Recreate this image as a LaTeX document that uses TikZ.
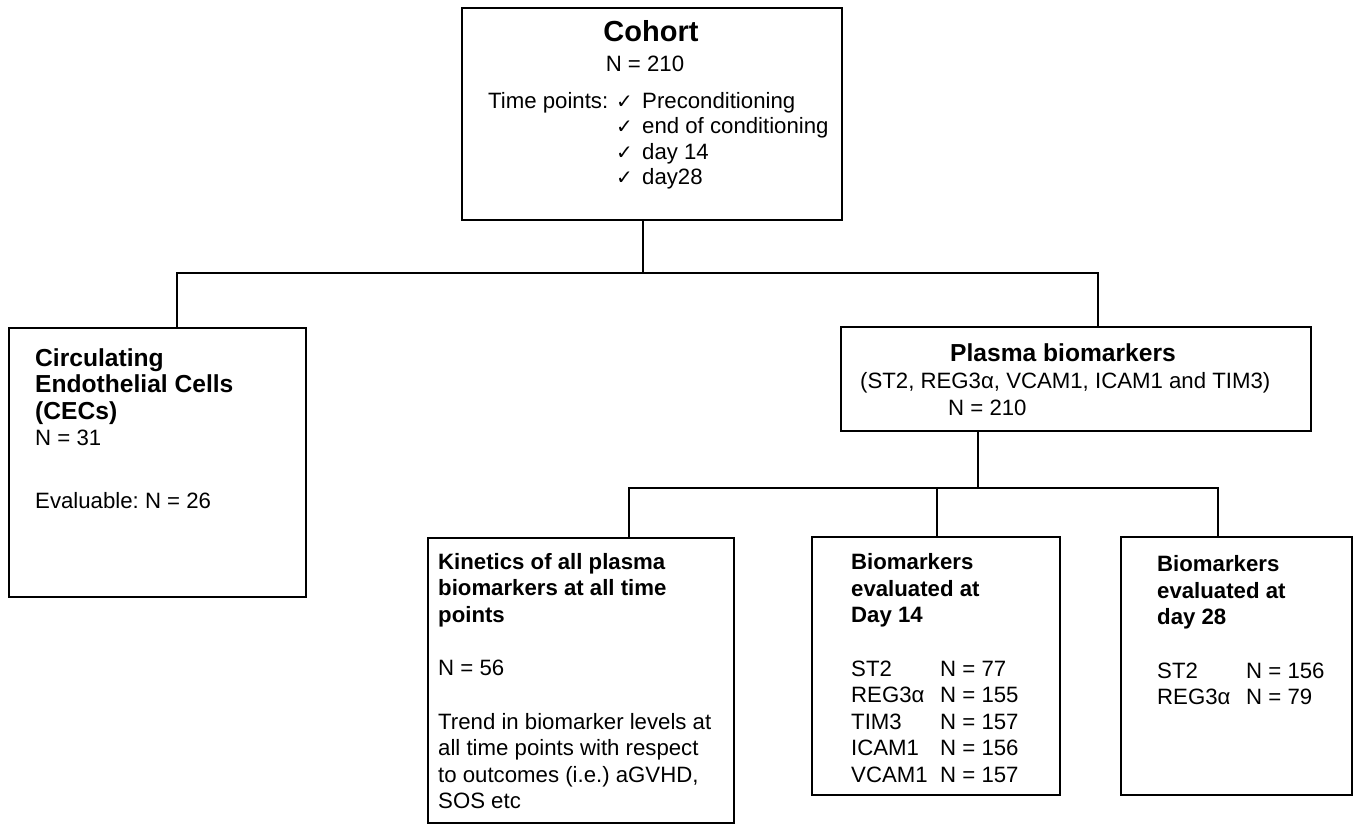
\documentclass[tikz,border=0pt]{standalone}
\usepackage{fontspec}
\setmainfont{Liberation Sans}
\newfontfamily\chkfont{DejaVu Sans}
\frenchspacing
\begin{document}
\begin{tikzpicture}[x=1pt,y=-1pt,
  box/.style={draw=black, line width=2.6pt, rectangle, inner sep=0pt, fill=none},
  conn/.style={draw=black, line width=2.6pt},
  txt/.style={inner sep=0pt, anchor=base west, font=\fontsize{22.2}{26.5}\selectfont\frenchspacing},
  txtc/.style={inner sep=0pt, anchor=base, font=\fontsize{22.2}{26.5}\selectfont},
  hd/.style={inner sep=0pt, anchor=base west, font=\fontsize{22.2}{26.5}\selectfont\bfseries},
  hdl/.style={inner sep=0pt, anchor=base west, font=\fontsize{24.6}{26.5}\selectfont\bfseries},
  chk/.style={inner sep=0pt, anchor=base west, font=\fontsize{20}{26.5}\selectfont\chkfont}
]
\useasboundingbox[fill=white] (0,0) rectangle (1354,825);

% boxes
\node[box, minimum width=380pt, minimum height=212pt] (cohort) at (652,114) {};
\node[box, minimum width=297pt, minimum height=269pt] (cec) at (157.5,462.5) {};
\node[box, minimum width=470pt, minimum height=104pt] (plasma) at (1076,379) {};
\node[box, minimum width=306pt, minimum height=285pt] (kin) at (581,680.5) {};
\node[box, minimum width=248pt, minimum height=258pt] (d14) at (936,666) {};
\node[box, minimum width=231pt, minimum height=258pt] (d28) at (1236.5,666) {};

% connector junctions
\coordinate (j1) at (643,273);
\coordinate (busL) at (177,273);
\coordinate (busR) at (1098,273);
\coordinate (j2) at (978,488);
\coordinate (b2L) at (629,488);
\coordinate (b2M) at (937,488);
\coordinate (b2R) at (1218,488);

\draw[conn] (cohort.south -| j1) -- (j1);
\draw[conn] (cec.north -| busL) |- (busR) -- (plasma.north -| busR);
\draw[conn] (plasma.south -| j2) -- (j2);
\draw[conn] (kin.north -| b2L) |- (b2R) -- (d28.north -| b2R);
\draw[conn] (d14.north -| b2M) -- (b2M);

% Cohort text
\node[inner sep=0pt, anchor=base, font=\fontsize{29}{32}\selectfont\bfseries] (ct) at (651,41) {Cohort};
\node[txtc] (cn) at (645,71) {N = 210};
\node[txt] (tp) at (488,108) {Time points:};
\foreach \y/\t [count=\i] in {108/Preconditioning,133.5/end of conditioning,159/day 14,184.5/day28}{
  \node[chk] (ck\i) at (616,\y) {✓};
  \node[txt] (ti\i) at (642,\y) {\t};
}

% CEC text
\node[hdl] (cec1) at (35,366) {Circulating};
\node[hdl] (cec2) at (35,392.5) {Endothelial Cells};
\node[hdl] (cec3) at (35,419) {(CECs)};
\node[txt] (cec4) at (35,445.5) {N = 31};
\node[txt] (cec5) at (35,508) {Evaluable: N = 26};

% Plasma text
\node[inner sep=0pt, anchor=base, font=\fontsize{24.6}{26.5}\selectfont\bfseries] (pl1) at (1063,361) {Plasma biomarkers};
\node[txt] (pl2) at (860,388) {(ST2, REG3α, VCAM1, ICAM1 and TIM3)};
\node[txt] (pl3) at (948,415) {N = 210};

% Kinetics text
\node[hd] (k1) at (438,569) {Kinetics of all plasma};
\node[hd] (k2) at (438,595.5) {biomarkers at all time};
\node[hd] (k3) at (438,622) {points};
\node[txt] (k4) at (438,675) {N = 56};
\node[txt] (k5) at (438,729) {Trend in biomarker levels at};
\node[txt] (k6) at (438,755.5) {all time points with respect};
\node[txt] (k7) at (438,782) {to outcomes (i.e.) aGVHD,};
\node[txt] (k8) at (438,808.5) {SOS etc};

% Day 14 text
\node[hd] (a1) at (851,569) {Biomarkers};
\node[hd] (a2) at (851,596) {evaluated at};
\node[hd] (a3) at (851,622.5) {Day 14};
\foreach \y/\m/\n [count=\i] in {676/ST2/77,702.5/REG3α/155,729/TIM3/157,755.5/ICAM1/156,782/VCAM1/157}{
  \node[txt] (am\i) at (851,\y) {\m};
  \node[txt] (an\i) at (940,\y) {N = \n};
}

% Day 28 text
\node[hd] (b1) at (1157,571) {Biomarkers};
\node[hd] (b2) at (1157,598) {evaluated at};
\node[hd] (b3) at (1157,624.5) {day 28};
\foreach \y/\m/\n [count=\i] in {678/ST2/156,704.5/REG3α/79}{
  \node[txt] (bm\i) at (1157,\y) {\m};
  \node[txt] (bn\i) at (1246,\y) {N = \n};
}
\end{tikzpicture}
\end{document}
